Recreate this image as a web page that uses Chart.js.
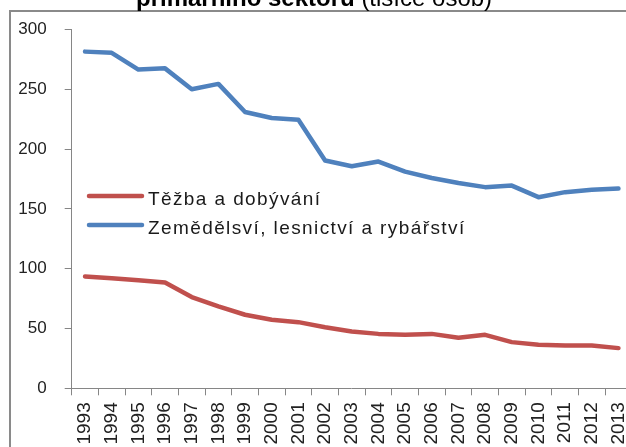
<!DOCTYPE html>
<html>
<head>
<meta charset="utf-8">
<script src="https://cdn.jsdelivr.net/npm/chart.js"></script>
<style>
  html, body { margin: 0; padding: 0; background: #fff; overflow: hidden; }
  #wrap { position: absolute; left: 0; top: 0; width: 660px; height: 470px; }
</style>
</head>
<body>
<div id="wrap"><canvas id="chart" width="660" height="470"></canvas></div>
<script>
// data (thousands of people)
const years = ["1993", "1994", "1995", "1996", "1997", "1998", "1999", "2000", "2001", "2002",
  "2003", "2004", "2005", "2006", "2007", "2008", "2009", "2010", "2011", "2012", "2013"];
const tezba = [93.5, 92, 90.3, 88.4, 76.3, 68.5, 61.5, 57.3, 55.3, 51.1,
  47.5, 45.5, 44.8, 45.5, 42.3, 44.7, 38.6, 36.4, 35.8, 35.8, 33.6];
const zemedelstvi = [281.5, 280.5, 266.5, 267.5, 250, 254.5, 231, 226, 224.5, 190.5,
  185.7, 189.6, 181.2, 175.8, 171.6, 168.2, 169.5, 159.8, 164, 166, 167];
const yTicks = [0, 50, 100, 150, 200, 250, 300];
const titleBold = "primárního sektoru ";
const titleNormal = "(tisíce osob)";

const axisGrey = "#868686";
const font = "'Liberation Sans', Arial, sans-serif";

// outer frame + title (cut off at the top, as in the source)
const framePlugin = {
  id: "frame",
  beforeDraw(chart) {
    const ctx = chart.ctx;
    ctx.save();
    ctx.fillStyle = "#fff";
    ctx.fillRect(0, 0, chart.width, chart.height);
    ctx.strokeStyle = "#8a8a8a";
    ctx.lineWidth = 2;
    ctx.strokeRect(10, 11, chart.width + 20, chart.height + 20);
    ctx.fillStyle = "#000";
    ctx.textBaseline = "alphabetic";
    ctx.font = "bold 24px " + font;
    ctx.fillText(titleBold, 136, 6);
    const w = ctx.measureText(titleBold).width;
    ctx.font = "24px " + font;
    ctx.fillText(titleNormal, 136 + w, 6);
    ctx.restore();
  }
};

// legend sitting inside the plot
const legendPlugin = {
  id: "innerLegend",
  afterDatasetsDraw(chart) {
    const ctx = chart.ctx;
    const rows = [{ y: 196, base: 205 }, { y: 225, base: 234 }];
    ctx.save();
    chart.data.datasets.forEach((ds, i) => {
      const r = rows[i];
      ctx.strokeStyle = ds.borderColor;
      ctx.lineWidth = 4.5;
      ctx.lineCap = "round";
      ctx.beginPath();
      ctx.moveTo(89, r.y);
      ctx.lineTo(142, r.y);
      ctx.stroke();
      ctx.fillStyle = "#1a1a1a";
      ctx.font = "19px " + font;
      ctx.letterSpacing = "1.4px";
      ctx.textBaseline = "alphabetic";
      ctx.fillText(ds.label, 148, r.base);
    });
    ctx.restore();
  }
};

new Chart(document.getElementById("chart"), {
  type: "line",
  data: {
    labels: years,
    datasets: [
      {
        label: "Těžba a dobývání",
        data: tezba,
        borderColor: "#C0504D",
        borderWidth: 4.5,
        pointRadius: 0,
        tension: 0,
        borderJoinStyle: "round",
        borderCapStyle: "round"
      },
      {
        label: "Zemědělsví, lesnictví a rybářství",
        data: zemedelstvi,
        borderColor: "#4F81BD",
        borderWidth: 4.5,
        pointRadius: 0,
        tension: 0,
        borderJoinStyle: "round",
        borderCapStyle: "round"
      }
    ]
  },
  options: {
    responsive: false,
    animation: false,
    devicePixelRatio: 1,
    layout: { padding: { top: 29.5, right: 28.2, left: 0, bottom: 0 } },
    plugins: { legend: { display: false }, tooltip: { enabled: false } },
    scales: {
      x: {
        offset: true,
        grid: { offset: true, drawOnChartArea: false, color: axisGrey, tickLength: 7 },
        border: { color: axisGrey, width: 1 },
        ticks: {
          minRotation: 90,
          maxRotation: 90,
          autoSkip: false,
          padding: 7,
          color: "#222",
          font: { family: font, size: 19 }
        },
        afterFit(scale) { scale.height = 470 - 388.3; }
      },
      y: {
        min: 0,
        max: 300,
        afterBuildTicks(scale) { scale.ticks = yTicks.map(v => ({ value: v })); },
        grid: { drawOnChartArea: false, color: axisGrey, tickLength: 7 },
        border: { color: axisGrey, width: 1 },
        ticks: {
          padding: 18,
          color: "#222",
          font: { family: font, size: 17 }
        },
        afterFit(scale) { scale.width = 71.7; }
      }
    }
  },
  plugins: [framePlugin, legendPlugin]
});
</script>
</body>
</html>
